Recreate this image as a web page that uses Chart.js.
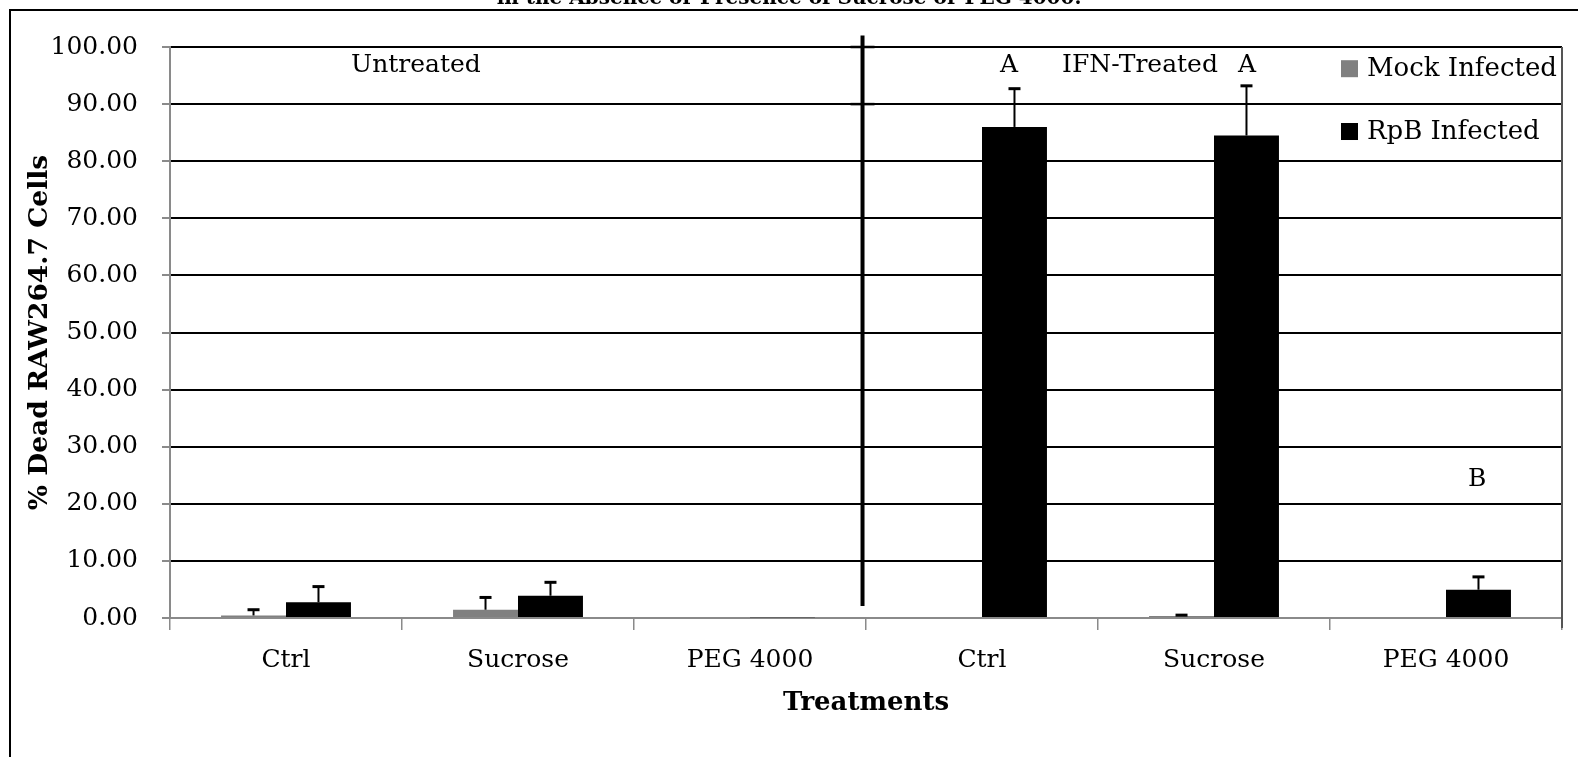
<!DOCTYPE html>
<html>
<head>
<meta charset="utf-8">
<script src="https://cdn.jsdelivr.net/npm/chart.js@4.4.1/dist/chart.umd.min.js"></script>
<style>
  html, body { margin: 0; padding: 0; background: #fff; overflow: hidden; }
  #frame { position: absolute; left: 9px; top: 9px; width: 1700px; height: 900px; border: 2px solid #000; }
  #wrap { position: absolute; left: 0; top: 0; }
</style>
</head>
<body>
<div id="frame"></div>
<div id="wrap"><canvas id="grafico" width="1578" height="757"></canvas></div>
<script>
const categorias = ["Ctrl", "Sucrose", "PEG 4000", "Ctrl", "Sucrose", "PEG 4000"];
const mockValores = [0.45, 1.45, 0, 0, 0.35, 0];
const mockErrores = [1.0, 2.15, 0, 0, 0.15, 0];
const rpbValores = [2.75, 3.9, 0.15, 86.0, 84.5, 4.95];
const rpbErrores = [2.75, 2.35, 0, 6.7, 8.7, 2.25];
const notas = ["Untreated", "A", "IFN-Treated", "A", "B"];
const tituloCortado = "in the Absence or Presence of Sucrose or PEG 4000.";

const FUENTE = "'DejaVu Serif', serif";
const GRIS = "#8a8a8a";

// where the notes sit, in category / value units
const notasX = [0.56, 3.116, 3.681, 4.142, 5.134];
const notasY = [96.8, 96.8, 96.8, 96.8, 24.2];

const extras = {
  id: "extras",
  afterDatasetsDraw(chart) {
    const { ctx, chartArea, scales: { x, y } } = chart;
    ctx.save();

    // error bars (positive side only)
    chart.data.datasets.forEach((ds, i) => {
      chart.getDatasetMeta(i).data.forEach((bar, j) => {
        const e = ds.errores[j];
        if (!e) return;
        const y0 = y.getPixelForValue(ds.data[j]);
        const y1 = y.getPixelForValue(ds.data[j] + e);
        ctx.strokeStyle = "#000";
        ctx.lineWidth = 2;
        ctx.beginPath(); ctx.moveTo(bar.x, y0); ctx.lineTo(bar.x, y1); ctx.stroke();
        ctx.lineWidth = 3;
        ctx.beginPath(); ctx.moveTo(bar.x - 6, y1); ctx.lineTo(bar.x + 6, y1); ctx.stroke();
      });
    });

    // separator between untreated / IFN groups
    const xs = x.getPixelForValue(2.485);
    ctx.strokeStyle = "#000";
    ctx.lineWidth = 4;
    ctx.beginPath(); ctx.moveTo(xs, y.getPixelForValue(102)); ctx.lineTo(xs, y.getPixelForValue(2.1)); ctx.stroke();
    ctx.lineWidth = 2.5;
    [100, 90].forEach(v => {
      const yy = y.getPixelForValue(v);
      ctx.beginPath(); ctx.moveTo(xs - 12, yy); ctx.lineTo(xs + 12, yy); ctx.stroke();
    });

    // right edge of plot
    ctx.strokeStyle = "#555";
    ctx.lineWidth = 2;
    ctx.beginPath(); ctx.moveTo(chartArea.right, chartArea.top); ctx.lineTo(chartArea.right, chartArea.bottom + 10); ctx.stroke();

    // notes
    ctx.fillStyle = "#000";
    ctx.font = "25px " + FUENTE;
    ctx.textAlign = "center";
    ctx.textBaseline = "middle";
    notas.forEach((t, i) => ctx.fillText(t, x.getPixelForValue(notasX[i]), y.getPixelForValue(notasY[i])));

    // legend
    ctx.font = "26px " + FUENTE;
    ctx.textAlign = "left";
    chart.data.datasets.forEach((ds, i) => {
      const cy = y.getPixelForValue(96.2 - i * 11);
      const lx = chartArea.right - 221;
      ctx.fillStyle = ds.backgroundColor;
      ctx.fillRect(lx, cy - 8.5, 17, 17);
      ctx.fillStyle = "#000";
      ctx.fillText(ds.label, lx + 26, cy + 1);
    });

    // title, mostly cut off above the window
    ctx.font = "bold 20px " + FUENTE;
    ctx.textAlign = "center";
    ctx.textBaseline = "alphabetic";
    ctx.fillText(tituloCortado, chart.width / 2, 4);

    ctx.restore();
  }
};

const ctx = document.getElementById("grafico").getContext("2d");
new Chart(ctx, {
  type: "bar",
  data: {
    labels: categorias,
    datasets: [
      { label: "Mock Infected", data: mockValores, errores: mockErrores, backgroundColor: "#808080" },
      { label: "RpB Infected", data: rpbValores, errores: rpbErrores, backgroundColor: "#000000" }
    ]
  },
  options: {
    responsive: false,
    animation: false,
    devicePixelRatio: 1,
    layout: { padding: { left: 0, right: 16, top: 47, bottom: 38 } },
    datasets: { bar: { categoryPercentage: 0.56, barPercentage: 1 } },
    plugins: { legend: { display: false }, tooltip: { enabled: false } },
    scales: {
      x: {
        grid: { offset: true, drawOnChartArea: false, tickLength: 12, color: GRIS, lineWidth: 1.5 },
        border: { color: GRIS, width: 2 },
        ticks: { color: "#000", padding: 15, font: { family: FUENTE, size: 25 } },
        title: { display: true, text: "Treatments", color: "#000", padding: { top: 0, bottom: 0 }, font: { family: FUENTE, size: 26, weight: "bold" } },
        afterFit(s) { s.height = 101; }
      },
      y: {
        min: 0,
        max: 100,
        ticks: { stepSize: 10, padding: 24, color: "#000", font: { family: FUENTE, size: 25 }, callback: v => v.toFixed(2) },
        grid: { color: c => (c.tick && c.tick.value === 0 ? GRIS : "#000"), lineWidth: 2, tickLength: 8, tickColor: GRIS },
        border: { color: GRIS, width: 2 },
        title: { display: true, text: "% Dead RAW264.7 Cells", color: "#000", padding: { top: 24, bottom: 0 }, font: { family: FUENTE, size: 26.5, weight: "bold" } },
        afterFit(s) { s.width = 170; }
      }
    }
  },
  plugins: [extras]
});
</script>
</body>
</html>
